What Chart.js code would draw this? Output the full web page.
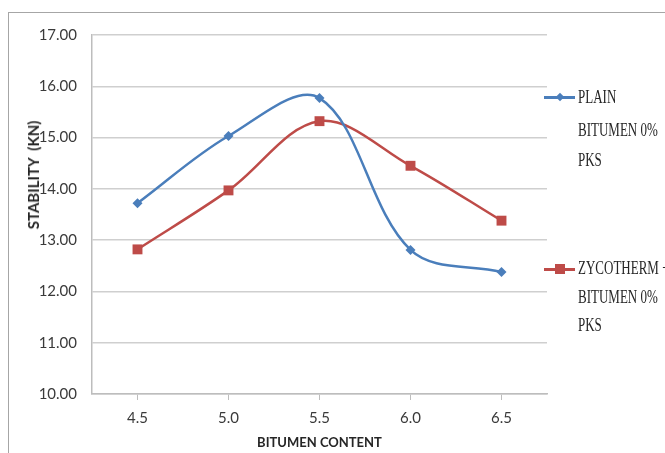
<!DOCTYPE html>
<html>
<head>
<meta charset="utf-8">
<script src="https://cdn.jsdelivr.net/npm/chart.js@4.4.0/dist/chart.umd.min.js"></script>
<style>
  html, body { margin: 0; padding: 0; background: #fff; }
  body { width: 665px; height: 453px; overflow: hidden; position: relative; }
  #frame { position: absolute; left: 8px; top: 12px; width: 720px; height: 520px; border: 1px solid #a6a6a6; }
  #chart { position: absolute; left: 0; top: 0; }
  #ytitle {
    position: absolute; left: 33px; top: 175px;
    transform: translate(-50%, -50%) rotate(-90deg);
    font: bold 15px Lato, sans-serif;
    color: #262626; white-space: nowrap;
  }
  .leg { position: absolute; left: 544px; font: 13px "Liberation Serif", serif; color: #262626; }
  .leg .row { position: absolute; left: 34px; white-space: nowrap; transform: scaleY(1.4); transform-origin: left center; line-height: 14px; }
  .leg .ln { position: absolute; left: 0; width: 31px; height: 2.5px; }
  .leg .mk { position: absolute; }
</style>
</head>
<body>
<div id="frame"></div>
<canvas id="chart" width="665" height="453"></canvas>
<div id="ytitle">STABILITY&nbsp; (KN)</div>
<div id="legend"></div>
<script>
const categories = ["4.5", "5.0", "5.5", "6.0", "6.5"];
const plainValues = [13.72, 15.03, 15.77, 12.81, 12.38];
const zycoValues = [12.82, 13.97, 15.32, 14.45, 13.38];
const seriesNames = [["PLAIN", "BITUMEN 0%", "PKS"], ["ZYCOTHERM +", "BITUMEN 0%", "PKS"]];
const yTicks = [10, 11, 12, 13, 14, 15, 16, 17];

const BLUE = "#4A7EBB";
const RED = "#BE4B48";
const GRID = "#cfcfcf";
const TEXT = "#3a3a3a";

function renderLegend() {
  const box = document.getElementById("legend");
  const items = [
    { names: seriesNames[0], color: BLUE, top: 97, rows: [97, 130, 160], diamond: true },
    { names: seriesNames[1], color: RED, top: 269, rows: [268, 297, 325], diamond: false },
  ];
  items.forEach((it) => {
    const leg = document.createElement("div");
    leg.className = "leg";
    leg.style.top = "0px";
    const ln = document.createElement("div");
    ln.className = "ln";
    ln.style.top = it.top - 1 + "px";
    ln.style.background = it.color;
    leg.appendChild(ln);
    const mk = document.createElement("div");
    mk.className = "mk";
    mk.style.background = it.color;
    if (it.diamond) {
      mk.style.width = "6px"; mk.style.height = "6px";
      mk.style.left = "13px"; mk.style.top = it.top - 3 + "px";
      mk.style.transform = "rotate(45deg)";
    } else {
      mk.style.width = "10px"; mk.style.height = "10px";
      mk.style.left = "11px"; mk.style.top = it.top - 5 + "px";
    }
    leg.appendChild(mk);
    it.names.forEach((name, i) => {
      const r = document.createElement("div");
      r.className = "row";
      r.textContent = name;
      r.style.top = it.rows[i] - 7 + "px";
      leg.appendChild(r);
    });
    box.appendChild(leg);
  });
}

const ctx = document.getElementById("chart");
new Chart(ctx, {
  type: "line",
  data: {
    labels: categories,
    datasets: [
      {
        label: seriesNames[0].join(" "),
        data: plainValues,
        borderColor: BLUE,
        backgroundColor: BLUE,
        borderWidth: 2.5,
        pointStyle: "rectRot",
        pointRadius: 5,
        pointBorderWidth: 0,
        tension: 0.35,
        fill: false,
      },
      {
        label: seriesNames[1].join(" "),
        data: zycoValues,
        borderColor: RED,
        backgroundColor: RED,
        borderWidth: 2.5,
        pointStyle: "rect",
        pointRadius: 7,
        pointBorderWidth: 0,
        tension: 0.35,
        fill: false,
      },
    ],
  },
  options: {
    responsive: false,
    animation: false,
    devicePixelRatio: 1,
    layout: { padding: { left: 0, right: 118, top: 35, bottom: 0 } },
    plugins: { legend: { display: false }, tooltip: { enabled: false } },
    scales: {
      x: {
        type: "category",
        offset: true,
        afterFit: (scale) => { scale.height = 59; },
        grid: { drawOnChartArea: false, drawTicks: true, tickLength: 6, color: "#bdbdbd", lineWidth: 1 },
        border: { color: "#bdbdbd", width: 1.5 },
        ticks: { color: TEXT, padding: 9, font: { family: "Lato, sans-serif", size: 15 } },
        title: {
          display: true,
          text: "BITUMEN CONTENT",
          color: "#262626",
          padding: { top: 0, bottom: 2 },
          font: { family: "Lato, sans-serif", size: 13, weight: "bold" },
        },
      },
      y: {
        min: 10,
        max: 17,
        afterFit: (scale) => { scale.width = 92; },
        afterBuildTicks: (scale) => { scale.ticks = yTicks.map((v) => ({ value: v })); },
        grid: { drawTicks: false, color: GRID, lineWidth: 1.5 },
        border: { color: "#bdbdbd", width: 1.5 },
        ticks: {
          color: TEXT,
          padding: 15,
          font: { family: "Lato, sans-serif", size: 15 },
          callback: (v) => Number(v).toFixed(2),
        },
      },
    },
  },
});

renderLegend();
</script>
</body>
</html>
